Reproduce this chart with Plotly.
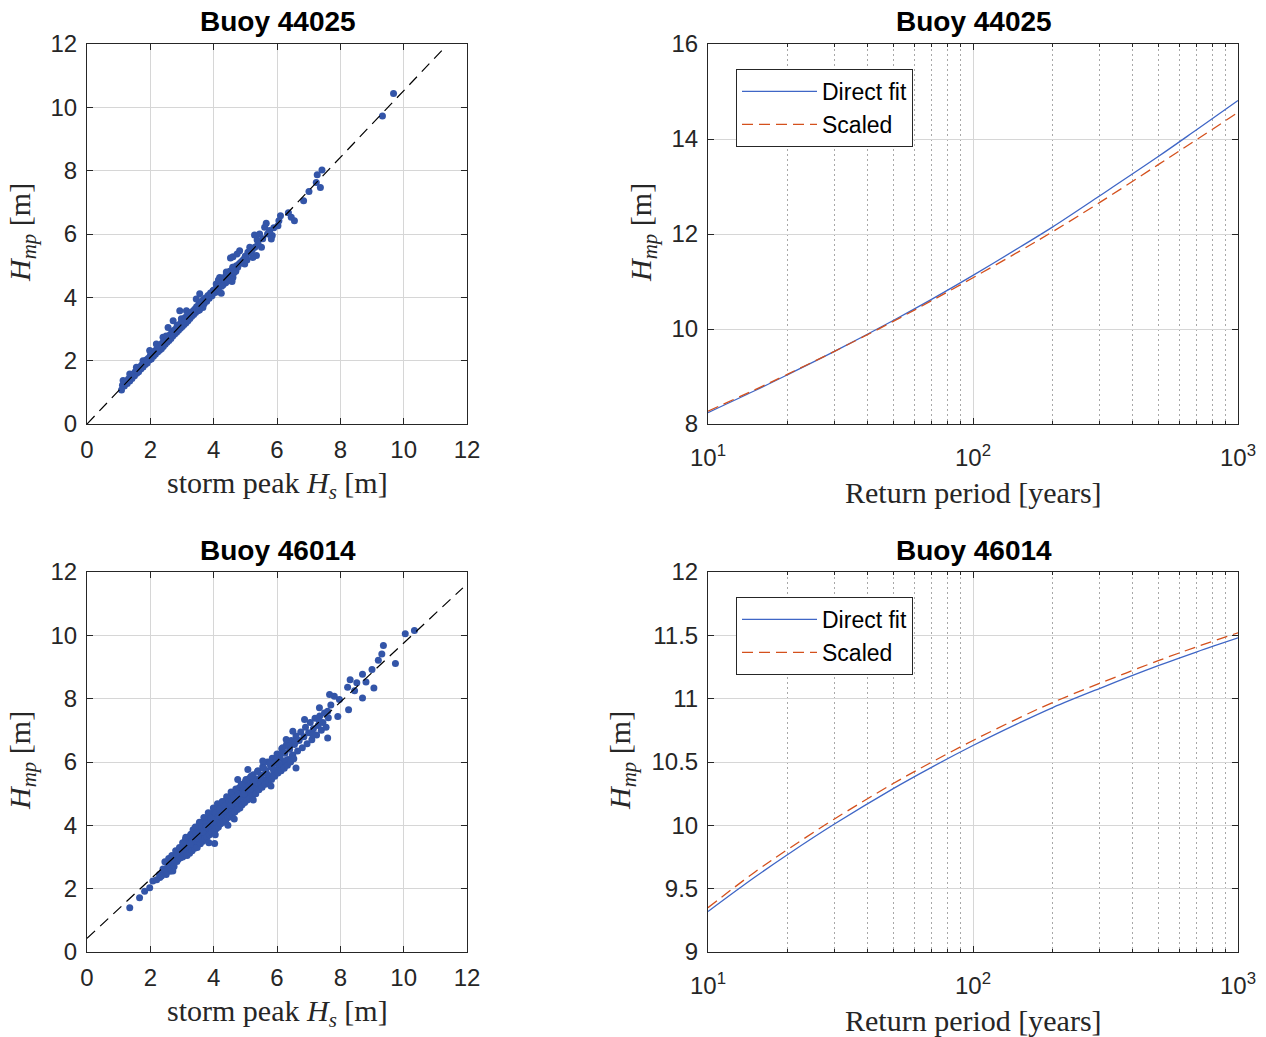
import plotly.graph_objects as go

# ---------------- data ----------------
# Buoy 44025 scatter (storm peak Hs vs Hmp)
hs_44025 = [1.12,1.18,1.22,1.27,1.31,1.35,1.38,1.42,1.46,1.50,1.53,1.57,1.60,1.63,1.66,1.70,1.73,1.77,1.80,1.84,
            1.87,1.90,1.94,1.97,2.00,2.03,2.06,2.10,2.13,2.16,2.20,2.23,2.26,2.29,2.32,2.35,2.38,2.41,2.44,2.47,
            2.50,2.53,2.56,2.59,2.62,2.65,2.68,2.71,2.74,2.77,2.80,2.83,2.86,2.89,2.92,2.95,2.98,3.01,3.04,3.07,
            3.10,3.13,3.16,3.19,3.22,3.25,3.28,3.31,3.34,3.37,3.40,3.43,3.46,3.50,3.53,3.56,3.60,3.63,3.67,3.70,
            3.74,3.78,3.82,3.86,3.90,3.95,4.00,4.05,4.10,4.15,4.20,4.26,4.32,4.38,4.44,4.50,
            1.40,1.55,1.75,1.95,2.15,2.35,2.55,2.75,2.90,3.05,3.20,3.35,3.50,3.65,3.80,3.95,4.10,4.25,4.40,4.55,
            4.60,4.65,4.70,4.48,4.58,4.62,4.35,4.30,4.22,
            9.68,9.33,7.42,7.27,7.24,7.37,7.01,6.84,6.36,6.45,6.55,6.11,6.06,6.03,5.66,5.61,5.77,5.85,5.82,5.29,
            5.45,5.51,5.37,5.14,5.08,4.98,5.03,4.82,4.61,4.53,4.74,5.35,5.24,4.66,4.51,4.61,4.24,4.19,4.40,4.08,
            3.98,3.77,3.56,3.45,3.66,3.14,2.93,2.98,2.72,2.56,2.40,2.19,1.98,1.77,1.56,1.35,1.14,1.09,
            1.25,1.33,1.44,1.48,1.58,1.62,1.68,1.72,1.78,1.82,1.88,1.92,1.98,2.02,2.08,2.12,2.18,2.22,2.28,2.31,
            2.37,2.42,2.46,2.52,2.57,2.61,2.66,2.70,2.73,2.78,2.82,2.87,2.91,2.96,3.00,3.03,3.08,3.12,3.15,3.18,
            3.23,3.27,3.30,3.36,3.39,3.44,3.48,3.52,3.57,3.62,3.66,3.72,3.76,3.84,3.88,3.93,3.98,4.03,4.08,4.13,
            4.18,4.24,4.28,4.34,4.42,4.46,4.52,4.56,4.64,4.68,4.72,4.76,4.80,4.85,4.90,4.95,5.00,5.05,5.10,5.18,
            5.22,5.30,5.40,5.55,5.70,5.75,5.90,4.25,4.15,3.55,3.20,2.85,2.50,4.60,4.40,4.45,4.30]
hmp_44025 = [1.22,1.20,1.35,1.28,1.42,1.36,1.50,1.44,1.58,1.52,1.66,1.60,1.72,1.65,1.80,1.74,1.86,1.80,1.94,1.88,
             2.02,1.93,2.08,2.02,2.16,2.05,2.22,2.14,2.30,2.20,2.36,2.27,2.43,2.33,2.50,2.38,2.56,2.45,2.62,2.52,
             2.70,2.58,2.76,2.64,2.82,2.70,2.90,2.78,2.95,2.84,3.00,2.90,3.08,2.96,3.14,3.02,3.22,3.08,3.28,3.14,
             3.36,3.20,3.40,3.26,3.45,3.33,3.52,3.40,3.56,3.46,3.62,3.52,3.70,3.58,3.78,3.64,3.85,3.72,3.92,3.80,
             3.98,3.88,4.06,3.97,4.14,4.05,4.22,4.15,4.35,4.22,4.45,4.38,4.58,4.46,4.66,4.60,
             1.46,1.64,1.82,2.05,2.26,2.47,2.68,2.88,3.05,3.20,3.36,3.50,3.67,3.83,3.98,4.15,4.28,4.46,4.60,4.75,
             4.85,4.90,4.82,4.70,4.50,4.95,4.55,4.40,4.50,
             10.44,9.73,8.02,7.87,7.63,7.47,7.34,7.05,6.67,6.53,6.42,6.58,6.42,6.26,6.34,6.21,6.11,5.95,5.84,5.97,
             6.00,5.58,5.81,5.58,5.42,5.05,5.26,5.47,5.28,5.24,5.37,5.32,5.26,4.95,4.82,4.63,4.13,4.63,4.74,4.42,
             4.21,3.89,4.11,3.95,3.68,3.58,3.58,3.32,3.26,3.05,2.74,2.53,2.32,2.00,1.79,1.58,1.37,1.07,
             1.30,1.40,1.50,1.57,1.68,1.67,1.77,1.80,1.88,1.93,1.95,2.04,2.08,2.10,2.20,2.22,2.30,2.35,2.38,2.45,
             2.48,2.56,2.58,2.66,2.70,2.75,2.80,2.84,2.88,2.93,2.96,3.02,3.06,3.12,3.16,3.18,3.25,3.30,3.30,3.35,
             3.40,3.44,3.48,3.55,3.56,3.62,3.66,3.70,3.74,3.80,3.84,3.90,3.94,4.02,4.08,4.12,4.18,4.24,4.28,4.32,
             4.40,4.48,4.50,4.56,4.64,4.72,4.76,4.80,4.78,4.95,5.00,4.95,5.05,5.10,5.15,5.20,5.30,5.18,5.40,5.45,
             5.50,5.58,5.70,5.85,6.00,6.05,6.20,4.35,4.55,3.60,3.50,3.12,2.78,4.95,4.80,4.52,4.62]
fit_44025_x = [0.0, 11.25]
fit_44025_y = [0.0, 11.84]

# Buoy 46014 scatter
hs_46014 = [2.40,2.46,2.52,2.58,2.63,2.68,2.72,2.76,2.80,2.84,2.88,2.92,2.95,2.98,3.02,3.05,3.08,3.11,3.14,3.17,
            3.20,3.22,3.25,3.28,3.30,3.33,3.36,3.38,3.41,3.44,3.46,3.49,3.52,3.54,3.57,3.60,3.62,3.65,3.68,3.70,
            3.73,3.76,3.78,3.81,3.84,3.86,3.89,3.92,3.94,3.97,4.00,4.02,4.05,4.08,4.10,4.13,4.16,4.18,4.21,4.24,
            4.26,4.29,4.32,4.34,4.37,4.40,4.42,4.45,4.48,4.50,4.53,4.56,4.58,4.61,4.64,4.66,4.69,4.72,4.74,4.77,
            4.80,4.82,4.85,4.88,4.92,4.96,5.00,5.04,5.08,5.12,5.16,5.20,5.25,5.30,5.35,5.40,5.45,5.50,5.55,5.60,
            5.65,5.70,5.75,5.80,5.85,5.90,5.95,6.00,6.05,6.10,6.15,6.20,6.25,6.30,6.35,6.40,6.45,6.50,6.55,6.60,
            6.65,6.70,6.75,6.80,6.85,6.90,6.95,7.00,7.05,7.10,7.15,7.20,7.25,7.30,7.35,7.40,7.45,7.50,7.55,7.62,7.70,
            3.50,3.70,3.90,4.10,4.30,4.50,4.70,4.90,3.30,3.10,4.00,4.20,4.40,4.60,4.80,5.00,3.60,3.80,4.25,4.45,
            10.34,10.05,9.36,9.31,9.20,9.74,9.00,9.06,8.70,8.81,8.52,8.31,8.23,8.45,8.70,8.26,7.97,7.66,7.81,7.60,
            7.92,7.60,7.34,7.34,6.87,7.13,6.60,6.50,6.29,6.18,5.81,5.55,5.34,5.08,4.76,4.03,2.87,2.71,2.29,2.08,
            1.98,1.82,1.66,1.35,
            3.02,3.06,3.12,3.16,3.24,3.27,3.32,3.35,3.40,3.42,3.48,3.51,3.55,3.58,3.63,3.66,3.69,3.72,3.75,3.79,
            3.83,3.87,3.91,3.95,3.99,4.03,4.06,4.09,4.12,4.15,4.19,4.22,4.27,4.31,4.35,4.38,4.41,4.46,4.49,4.52,
            4.55,4.59,4.63,4.67,4.70,4.75,4.78,4.83,4.87,4.90,4.94,4.98,5.02,5.06,5.10,5.14,5.18,5.23,5.28,5.33,
            5.38,5.43,5.48,5.53,5.58,5.63,5.68,5.73,5.78,5.83,5.88,5.93,5.98,6.03,6.08,6.13,6.18,6.23,6.28,6.33,
            6.38,6.43,6.48,6.53,6.58,4.05,4.45,3.85,4.65,5.25,3.45,3.65,4.15,4.35,4.55,4.75,4.95,5.15,3.25,3.75,
            2.55,2.65,2.75,2.85,2.90,2.70,2.62,2.50,2.45,2.35,2.30,2.20]
hmp_46014 = [2.62,2.85,2.60,2.95,2.72,3.05,2.80,2.98,3.20,2.86,3.12,3.30,2.98,3.22,3.45,3.05,3.30,3.55,3.18,3.40,
             3.62,3.25,3.50,3.72,3.32,3.58,3.80,3.40,3.65,3.90,3.48,3.72,3.98,3.55,3.80,4.05,3.62,3.88,4.12,3.70,
             3.95,4.20,3.78,4.02,4.28,3.85,4.10,4.35,3.92,4.18,4.42,4.00,4.25,4.50,4.06,4.32,4.58,4.15,4.40,4.65,
             4.22,4.48,4.72,4.30,4.55,4.80,4.38,4.62,4.88,4.45,4.70,4.95,4.52,4.78,5.02,4.60,4.86,5.10,4.68,4.95,
             5.18,4.75,5.02,5.28,4.85,5.12,5.38,4.95,5.22,5.48,5.05,5.32,5.60,5.15,5.45,5.72,5.30,5.58,5.85,5.42,
             5.72,6.00,5.55,5.85,6.12,5.68,5.98,6.25,5.82,6.12,6.42,5.95,6.28,6.55,6.08,6.40,6.68,6.22,6.55,6.82,
             6.35,6.68,6.95,6.45,6.80,7.10,6.58,6.92,7.25,6.70,7.05,7.38,6.85,7.15,7.45,7.00,7.25,7.55,7.10,7.40,7.80,
             3.70,3.90,4.10,4.30,4.45,4.65,4.85,5.05,3.50,3.30,4.20,4.35,4.60,4.80,4.95,5.15,3.85,4.05,4.55,4.70,
             10.15,10.05,9.68,9.41,9.21,9.11,8.92,8.34,8.77,8.53,8.50,8.60,8.36,8.25,8.02,7.65,7.97,8.13,8.08,7.60,
             7.44,6.76,7.71,7.29,7.34,6.86,5.81,6.97,6.71,6.45,5.24,6.03,5.18,5.76,5.45,3.43,2.92,2.56,2.45,2.24,
             2.03,1.92,1.71,1.40,
             3.00,3.42,3.62,3.05,3.12,3.68,3.20,3.86,3.28,3.95,3.30,3.60,4.10,3.42,3.95,3.50,4.25,3.58,4.05,3.62,
             4.40,3.70,4.22,3.78,4.55,3.82,4.38,3.90,4.68,3.95,4.52,4.05,4.75,4.10,4.62,4.15,4.90,4.25,4.75,4.30,
             5.05,4.35,4.88,4.42,5.15,4.50,4.98,4.55,5.30,4.65,5.10,4.72,5.45,4.80,5.25,4.85,5.55,4.95,5.38,5.00,
             5.70,5.12,5.50,5.20,5.80,5.30,5.62,5.38,5.95,5.45,5.78,5.55,6.10,5.65,5.92,5.72,6.30,5.80,6.05,5.90,
             6.50,6.00,6.20,6.10,6.62,3.70,4.00,3.45,4.20,4.80,3.75,3.80,4.30,4.45,4.65,4.80,5.00,5.15,3.40,3.95,
             2.70,2.85,2.70,3.05,2.95,2.62,2.55,2.45,2.52,2.40,2.35,2.28]
fit_46014_x = [0.0, 11.87]
fit_46014_y = [0.43, 11.50]

# Return-level curves
return_period = [10, 15, 20, 30, 50, 70, 100, 150, 200, 300, 500, 700, 1000]
direct_44025 = [8.24, 8.70, 9.04, 9.53, 10.18, 10.63, 11.13, 11.72, 12.15, 12.80, 13.63, 14.20, 14.81]
scaled_44025 = [8.27, 8.72, 9.05, 9.53, 10.16, 10.60, 11.08, 11.64, 12.05, 12.66, 13.46, 13.99, 14.56]
direct_46014 = [9.32, 9.59, 9.77, 10.01, 10.29, 10.46, 10.63, 10.81, 10.93, 11.08, 11.26, 11.37, 11.48]
scaled_46014 = [9.35, 9.63, 9.81, 10.05, 10.33, 10.50, 10.67, 10.85, 10.97, 11.12, 11.30, 11.41, 11.52]

x_ticks_log = [10, 100, 1000]
x_ticklabels_log = ["10<sup>1</sup>", "10<sup>2</sup>", "10<sup>3</sup>"]
minor_log = [20, 30, 40, 50, 60, 70, 80, 90, 200, 300, 400, 500, 600, 700, 800, 900]

# ---------------- figure ----------------
W, H = 1266, 1037
def px(x):
    return x / W
def py(y):
    return 1 - y / H

SCATTER_C = "#3355a8"
BLUE = "#3f66c6"
ORANGE = "#d4501c"
GRID = "#d6d6d6"
SANS = "Liberation Sans, Arial, sans-serif"
SERIF = "Liberation Serif, Times New Roman, serif"

fig = go.Figure()

fig.add_trace(go.Scatter(x=hs_44025, y=hmp_44025, mode="markers", xaxis="x", yaxis="y",
                         marker=dict(size=7, color=SCATTER_C, line=dict(width=0)), showlegend=False))
fig.add_trace(go.Scatter(x=fit_44025_x, y=fit_44025_y, mode="lines", xaxis="x", yaxis="y",
                         line=dict(color="black", width=1.2, dash="11px,7px"), showlegend=False))
fig.add_trace(go.Scatter(x=hs_46014, y=hmp_46014, mode="markers", xaxis="x3", yaxis="y3",
                         marker=dict(size=7, color=SCATTER_C, line=dict(width=0)), showlegend=False))
fig.add_trace(go.Scatter(x=fit_46014_x, y=fit_46014_y, mode="lines", xaxis="x3", yaxis="y3",
                         line=dict(color="black", width=1.2, dash="11px,7px"), showlegend=False))

fig.add_trace(go.Scatter(x=return_period, y=direct_44025, mode="lines", xaxis="x2", yaxis="y2",
                         line=dict(color=BLUE, width=1.3, shape="spline"), name="Direct fit", legend="legend"))
fig.add_trace(go.Scatter(x=return_period, y=scaled_44025, mode="lines", xaxis="x2", yaxis="y2",
                         line=dict(color=ORANGE, width=1.3, dash="11px,6px", shape="spline"), name="Scaled", legend="legend"))
fig.add_trace(go.Scatter(x=return_period, y=direct_46014, mode="lines", xaxis="x4", yaxis="y4",
                         line=dict(color=BLUE, width=1.3, shape="spline"), name="Direct fit", legend="legend2"))
fig.add_trace(go.Scatter(x=return_period, y=scaled_46014, mode="lines", xaxis="x4", yaxis="y4",
                         line=dict(color=ORANGE, width=1.3, dash="11px,6px", shape="spline"), name="Scaled", legend="legend2"))

LX = [px(87), px(467)]
RX = [px(708), px(1238)]
TY = [py(424), py(44)]
BY = [py(952), py(572)]

common = dict(showline=True, linecolor="#262626", linewidth=1, mirror="ticks", ticks="inside",
              ticklen=6, tickcolor="#262626", showgrid=True, gridcolor=GRID, gridwidth=1.4,
              zeroline=False, automargin=False, ticklabelstandoff=4,
              tickfont=dict(family=SANS, size=24, color="#262626"))

lin_x = dict(common, range=[0, 12], dtick=2, tick0=0)
lin_y = dict(common, range=[0, 12], dtick=2, tick0=0)
log_x = dict(common, type="log", range=[1, 3], tickvals=x_ticks_log, ticktext=x_ticklabels_log,
             minor=dict(tickvals=minor_log, showgrid=True, griddash="2px,3px", gridcolor="#a8a8a8",
                        gridwidth=1, ticks="inside", ticklen=3, tickcolor="#262626"))
log_x["ticklabelstandoff"] = 12

legend_common = dict(xanchor="left", yanchor="top", bgcolor="white", bordercolor="#262626",
                     borderwidth=1, font=dict(family=SANS, size=23, color="black"),
                     itemwidth=75, tracegroupgap=0)

fig.update_layout(
    width=W, height=H, margin=dict(l=0, r=0, t=0, b=0, autoexpand=False),
    paper_bgcolor="white", plot_bgcolor="white",
    xaxis=dict(lin_x, domain=LX, anchor="y"),
    yaxis=dict(lin_y, domain=TY, anchor="x"),
    xaxis2=dict(log_x, domain=RX, anchor="y2"),
    yaxis2=dict(common, domain=TY, anchor="x2", range=[8, 16], dtick=2, tick0=0),
    xaxis3=dict(lin_x, domain=LX, anchor="y3"),
    yaxis3=dict(lin_y, domain=BY, anchor="x3"),
    xaxis4=dict(log_x, domain=RX, anchor="y4"),
    yaxis4=dict(common, domain=BY, anchor="x4", range=[9, 12], dtick=0.5, tick0=0),
    legend=dict(legend_common, x=px(736), y=py(69)),
    legend2=dict(legend_common, x=px(736), y=py(597)),
)

ann = []
for x, y, t in [(278, 22, "Buoy 44025"), (974, 22, "Buoy 44025"),
                (278, 550, "Buoy 46014"), (974, 550, "Buoy 46014")]:
    ann.append(dict(x=px(x), y=py(y), xref="paper", yref="paper", text="<b>" + t + "</b>",
                    showarrow=False, font=dict(family=SANS, size=28, color="black"),
                    xanchor="center", yanchor="middle"))
hs_label = "storm peak <i>H<sub>s</sub></i> [m]"
rp_label = "Return period [years]"
for x, y, t in [(277, 485, hs_label), (973, 492, rp_label),
                (277, 1013, hs_label), (973, 1020, rp_label)]:
    ann.append(dict(x=px(x), y=py(y), xref="paper", yref="paper", text=t, showarrow=False,
                    font=dict(family=SERIF, size=30, color="#262626"), xanchor="center", yanchor="middle"))
hmp_label = "<i>H<sub>mp</sub></i> [m]"
for x, y in [(22, 233), (643, 233), (22, 761), (622, 761)]:
    ann.append(dict(x=px(x), y=py(y), xref="paper", yref="paper", text=hmp_label, showarrow=False,
                    textangle=-90, font=dict(family=SERIF, size=30, color="#262626"),
                    xanchor="center", yanchor="middle"))
fig.update_layout(annotations=ann)

fig.write_html("out.html")
